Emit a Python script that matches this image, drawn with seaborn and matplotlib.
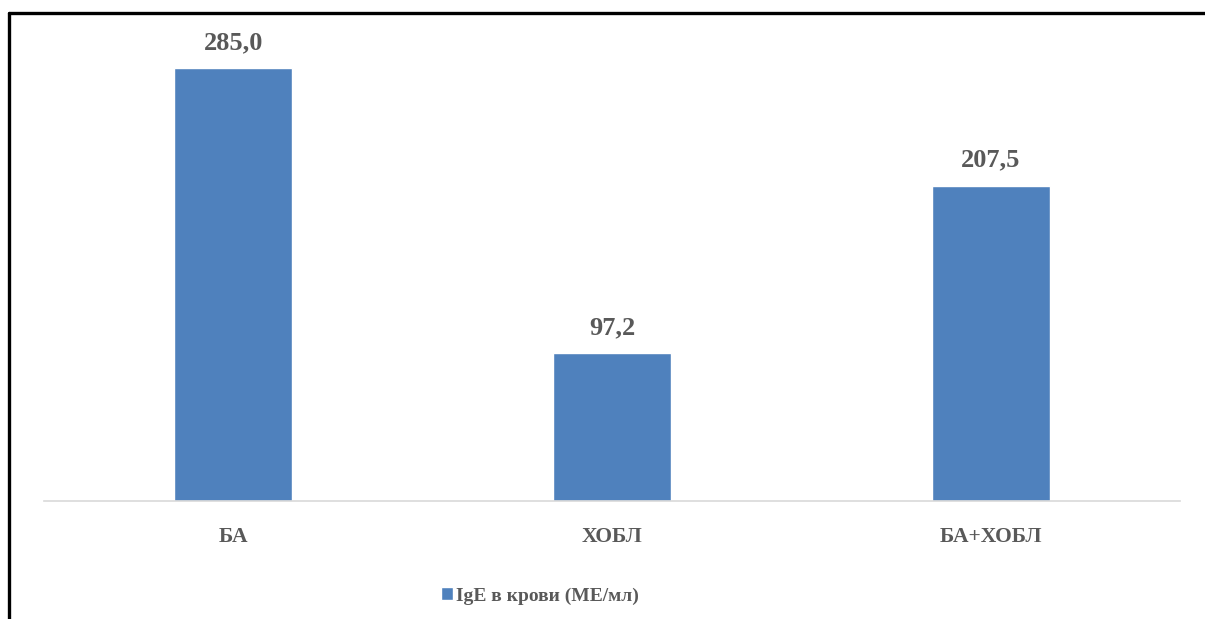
import pandas as pd
import matplotlib
matplotlib.use('Agg')
import matplotlib.pyplot as plt
from matplotlib.lines import Line2D
import seaborn as sns

categories = ['БА', 'ХОБЛ', 'БА+ХОБЛ']
values = [285.0, 97.2, 207.5]
series_name = 'IgE в крови (МЕ/мл)'

BAR_COLOR = '#4F81BD'
TEXT_COLOR = '#595959'

sns.set_style('white')
plt.rcParams['font.family'] = ['Liberation Serif', 'DejaVu Serif']

df = pd.DataFrame({'group': categories, 'value': values, 'series': series_name})

fig = plt.figure(figsize=(12.05, 6.19), dpi=100)
ax = fig.add_axes([44 / 1205, 1 - 501 / 619, (1180 - 44) / 1205, (501 - 45) / 619])

sns.barplot(data=df, x='group', y='value', hue='series', palette=[BAR_COLOR],
            width=0.312, dodge=False, ax=ax, legend=True, saturation=1)

ax.set_xlim(-0.5, 2.5)
ax.set_ylim(0, 300)
ax.set_xlabel('')
ax.set_ylabel('')
ax.set_yticks([])
for side in ['left', 'right', 'top']:
    ax.spines[side].set_visible(False)
ax.spines['bottom'].set_color('#D9D9D9')
ax.spines['bottom'].set_linewidth(1.2)
ax.tick_params(axis='x', length=0, pad=19, labelsize=15.5, labelcolor=TEXT_COLOR)
for lbl in ax.get_xticklabels():
    lbl.set_fontweight('bold')

labels = [f'{v:.1f}'.replace('.', ',') for v in values]
ax.bar_label(ax.containers[0], labels=labels, padding=10, fontsize=19,
             fontweight='bold', color=TEXT_COLOR)

handles, _ = ax.get_legend_handles_labels()
ax.legend(handles, [series_name], loc='center', frameon=False,
          bbox_to_anchor=(540 / 1205, 1 - 596 / 619), bbox_transform=fig.transFigure,
          handlelength=0.65, handleheight=0.65, handletextpad=0.15,
          prop={'size': 14, 'weight': 'bold'}, labelcolor=TEXT_COLOR)

# border of the picture frame (left and top only)
fig.add_artist(Line2D([9 / 1205, 9 / 1205], [0, 1 - 13 / 619], color='black', lw=2.4,
                      transform=fig.transFigure))
fig.add_artist(Line2D([9 / 1205, 1], [1 - 13 / 619, 1 - 13 / 619], color='black', lw=2.4,
                      transform=fig.transFigure))

fig.savefig('out.png', dpi=100)
